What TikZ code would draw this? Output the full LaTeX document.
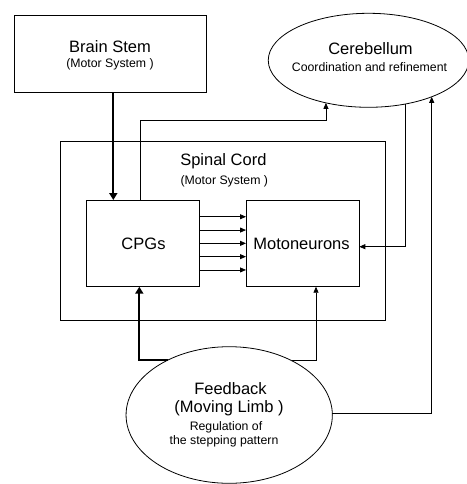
\documentclass[tikz,border=0pt]{standalone}
\usepackage{fontspec}
\setmainfont{Liberation Sans}
\usetikzlibrary{arrows.meta,shapes.geometric}
\begin{document}
\begin{tikzpicture}[x=1pt,y=-1pt,
  box/.style={draw, line width=0.9pt, inner sep=0pt, outer sep=0pt},
  oval/.style={draw, ellipse, line width=0.8pt, inner sep=0pt, outer sep=0pt},
  big/.style={font=\fontsize{16.5}{19}\selectfont, inner sep=0pt, anchor=base},
  small/.style={font=\fontsize{12.3}{14}\selectfont, inner sep=0pt, anchor=base},
  link/.style={line width=0.75pt, -{Triangle[length=6pt,width=5pt]}},
  heavy/.style={line width=1.8pt, -{Triangle[length=7pt,width=8pt]}},
]
\useasboundingbox (0,0) rectangle (466,484);

% blocks
\node[box, minimum width=192.7pt, minimum height=77pt] (bs) at (110.3,54.2) {};
\node[box, minimum width=325.7pt, minimum height=178.3pt] (sc) at (222.85,230.85) {};
\node[box, minimum width=112.6pt, minimum height=86.7pt] (cpg) at (143,243.35) {};
\node[box, minimum width=113.3pt, minimum height=86.7pt] (mn) at (302.65,243.35) {};
\node[oval, minimum width=200.5pt, minimum height=94pt] (cb) at (368.5,60.3) {};
\node[oval, minimum width=206.3pt, minimum height=136.6pt] (fb) at (229.2,415) {};

% labels
\node[big] (bsT) at (110,52.3) {Brain Stem};
\node[small] (bsS) at (110,67.3) {(Motor System )};
\node[big] (cbT) at (370.5,55) {Cerebellum};
\node[small] (cbS) at (369.5,71.7) {Coordination and refinement};
\node[big] (scT) at (223.4,165.5) {Spinal Cord};
\node[small] (scS) at (224.3,184.5) {(Motor System )};
\node[big] (cpgT) at (143.5,249.3) {CPGs};
\node[big] (mnT) at (301.5,249.3) {Motoneurons};
\node[big] (fbT) at (230.5,394) {Feedback};
\node[big] (fbM) at (229,412.7) {(Moving Limb )};
\node[small] (fbR) at (226,430.3) {Regulation of};
\node[small] (fbP) at (224,444.5) {the stepping pattern};

% routing guides
\coordinate (xBS) at (113.3,0);
\coordinate (xUp) at (140,0);
\coordinate (yTop) at (0,120.7);
\coordinate (yMn) at (0,246.7);
\coordinate (xFb) at (139.3,0);
\coordinate (xMb) at (316,0);

% brain stem to CPGs
\draw[heavy] (bs.south -| xBS) -- (cpg.north -| xBS);
% CPGs to cerebellum
\draw[link] (cpg.north -| xUp) -- (xUp |- yTop) -- (cb.225.6 |- yTop) -- (cb.225.6);
% cerebellum to motoneurons
\draw[link] (cb.310.5) |- (mn.east |- yMn);
% CPGs to motoneurons
\foreach \d in {-26.6,-13.3,0,13.3,26.6}
  \draw[link] ([yshift=\d pt]cpg.east) -- ([yshift=\d pt]mn.west);
% feedback paths
\draw[heavy] (fb.138.1) -| (xFb |- cpg.south);
\draw[link] (fb.41.9) -| (xMb |- mn.south);
\draw[link] (fb.1) -| (cb.330.4);
\end{tikzpicture}
\end{document}
